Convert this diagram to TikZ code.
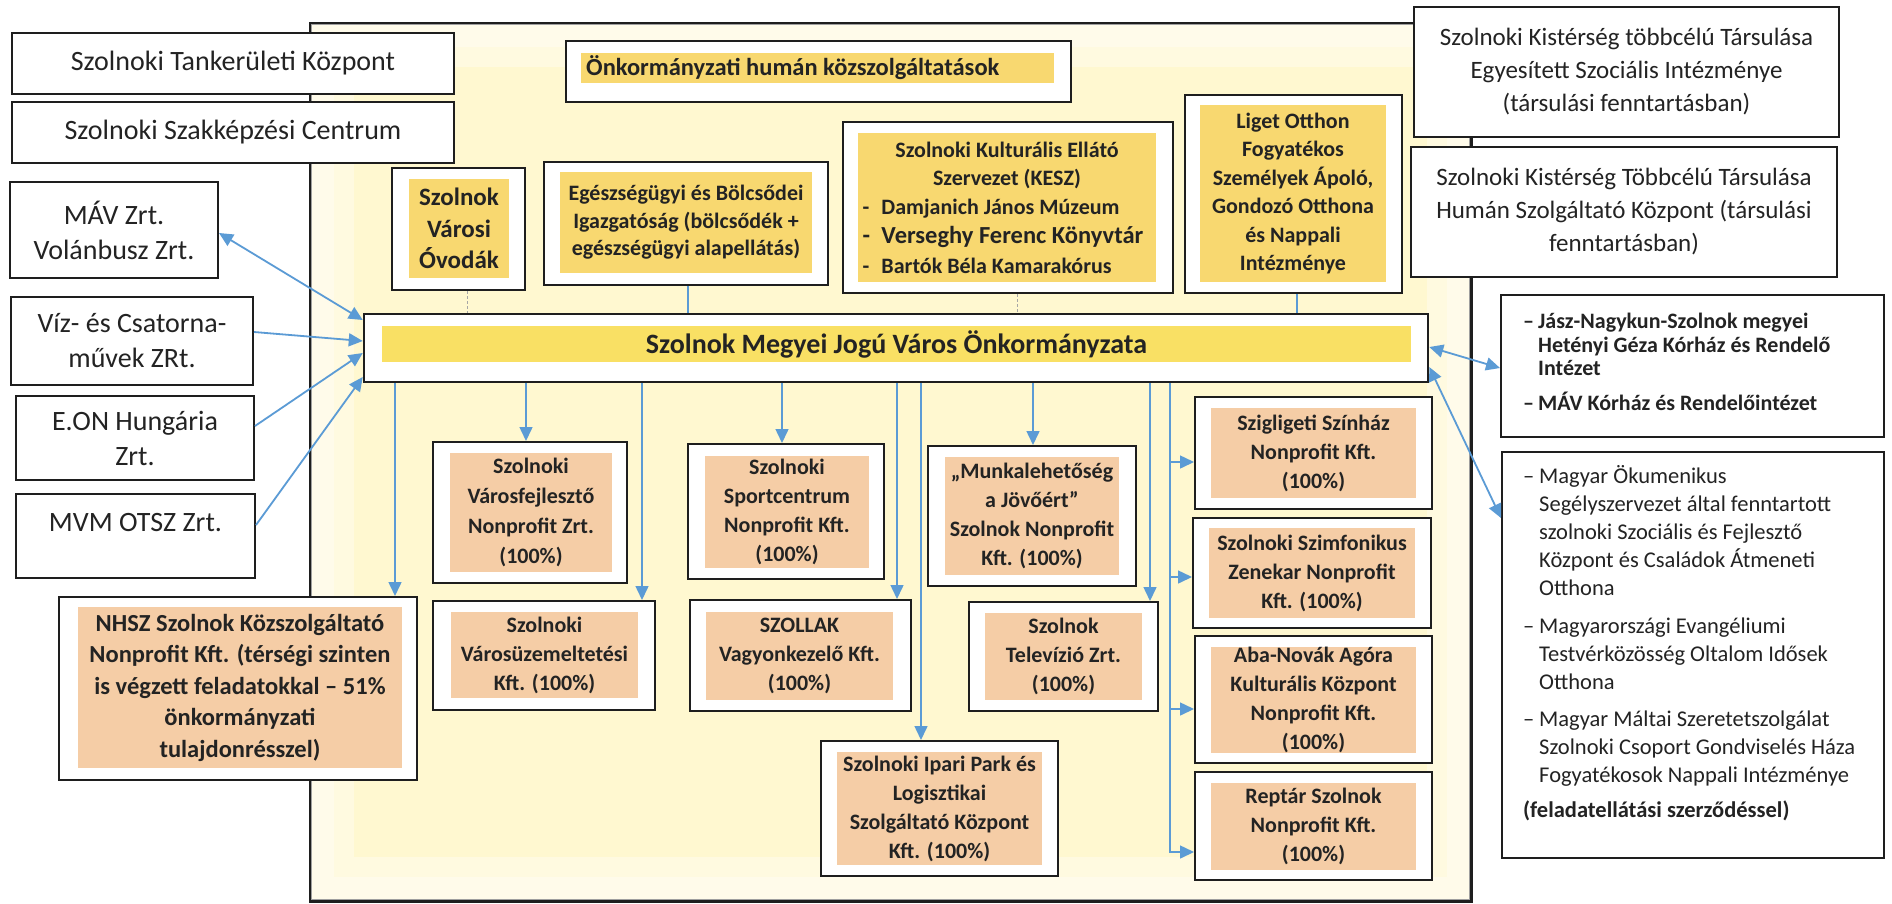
\documentclass[tikz,border=0pt]{standalone}
\usepackage{fontspec}
\setmainfont{Carlito}
\usetikzlibrary{arrows.meta,calc}
\definecolor{frameY}{RGB}{255,248,208}
\definecolor{yfill}{RGB}{248,216,112}
\definecolor{bandY}{RGB}{249,224,100}
\definecolor{ofill}{RGB}{245,205,166}
\definecolor{cblue}{RGB}{91,155,213}
\definecolor{txt}{RGB}{35,35,35}
\definecolor{bline}{RGB}{30,30,30}
\newcommand\myfs[2]{\fontsize{#1}{#2}\selectfont}
\begin{document}
\begin{tikzpicture}[x=1pt,y=-1pt,
  box/.style={draw=bline, line width=2pt, fill=white, inner sep=0pt},
  sz/.style 2 args={minimum width=#1pt, minimum height=#2pt},
  ytxt/.style={fill=yfill, inner sep=0pt, align=center, text=txt},
  otxt/.style={fill=ofill, inner sep=0pt, align=center, text=txt, font=\bfseries\myfs{22}{29}},
  ltxt/.style={align=center, text=txt, font=\myfs{28}{35}},
  arr/.style={draw=cblue, line width=1.5pt, -{Triangle[length=14pt,width=13pt]}},
  arrb/.style={draw=cblue, line width=1.8pt, {Triangle[length=14pt,width=13pt]}-{Triangle[length=14pt,width=13pt]}},
  plainb/.style={draw=cblue, line width=1.2pt},
  gline/.style={draw=gray!70, line width=1pt, dash pattern=on 3pt off 2pt},
  glow/.style={draw=white, opacity=0.35},
]
\useasboundingbox (0,0) rectangle (1892,903);
\fill[white] (0,0) rectangle (1892,903);
% frame
\node[draw=bline, line width=2.5pt, fill=frameY, inner sep=0pt, sz={1159}{876}] (frame) at (890.5,462) {};
\draw[glow, line width=44pt] ([shift={(22,22)}]frame.north west) rectangle ([shift={(-22,-22)}]frame.south east);
\draw[glow, line width=24pt] ([shift={(12,12)}]frame.north west) rectangle ([shift={(-12,-12)}]frame.south east);
\draw[draw=bline, line width=2.5pt] (frame.north west) rectangle (frame.south east);

% left column
\node[box, sz={442}{61}, ltxt] (tank) at (233,63.5) {Szolnoki Tankerületi Központ};
\node[box, sz={442}{61}, ltxt] (szak) at (233,132.5) {Szolnoki Szakképzési Centrum};
\node[box, sz={208}{96}, ltxt] (mav) at (114,230) {MÁV Zrt.\\Volánbusz Zrt.};
\node[box, sz={242}{88}, ltxt] (viz) at (132,341) {Víz- és Csatorna-\\művek ZRt.};
\node[box, sz={238}{84}, ltxt] (eon) at (135,438) {E.ON Hungária\\Zrt.};
\node[box, sz={239}{84}] (mvm) at (135.5,536) {};
\node[ltxt, inner sep=0pt] (mvm-t) at (135.5,523) {MVM OTSZ Zrt.};

\node[box, sz={358}{183}] (nhsz) at (238,688.5) {};
\node[otxt, sz={324}{161}, font=\bfseries\myfs{24.5}{31.5}] (nhsz-t) at (240,687.5) {NHSZ Szolnok Közszolgáltató\\Nonprofit Kft. (térségi szinten\\is végzett feladatokkal – 51\%\\önkormányzati\\tulajdonrésszel)};

% top row inside frame
\node[box, sz={505}{61}] (onk) at (818.5,71.5) {};
\node[fill=yfill, inner sep=0pt, sz={473}{30}] (onk-b) at (817.5,68) {};
\node[anchor=west, inner sep=0pt, text=txt, font=\bfseries\myfs{24.5}{30}] (onk-t) at (586,68) {Önkormányzati humán közszolgáltatások};

\node[box, sz={133}{122}] (ovoda) at (458.5,229) {};
\node[ytxt, sz={100}{99}, font=\bfseries\myfs{25}{31.5}] (ovoda-t) at (459,228.5) {Szolnok\\Városi\\Óvodák};

\node[box, sz={284}{123}] (eu) at (686,223.5) {};
\node[ytxt, sz={252}{101}, font=\bfseries\myfs{22}{27.5}] (eu-t) at (686,222.5) {Egészségügyi és Bölcsődei\\Igazgatóság (bölcsődék +\\egészségügyi alapellátás)};

\node[box, sz={330}{171}] (kesz) at (1008,207.5) {};
\node[ytxt, sz={298}{149}, font=\bfseries\myfs{22}{28.5}] (kesz-t) at (1007,207.5) {Szolnoki Kulturális Ellátó\\Szervezet (KESZ)\\\makebox[289pt][l]{\makebox[19pt][l]{-}Damjanich János Múzeum}\\[1pt]\makebox[289pt][l]{\myfs{24.5}{30}\makebox[19pt][l]{-}Verseghy Ferenc Könyvtár}\\[1pt]\makebox[289pt][l]{\makebox[19pt][l]{-}Bartók Béla Kamarakórus}};

\node[box, sz={217}{198}] (liget) at (1293.5,194) {};
\node[ytxt, sz={186}{177}, font=\bfseries\myfs{22}{28.5}] (liget-t) at (1293,193.5) {Liget Otthon\\Fogyatékos\\Személyek Ápoló,\\Gondozó Otthona\\és Nappali\\Intézménye};

% right column
\node[box, sz={425}{130}, align=center, text=txt, font=\myfs{25}{33}] (kist1) at (1626.5,72) {Szolnoki Kistérség többcélú Társulása\\Egyesített Szociális Intézménye\\(társulási fenntartásban)};
\node[box, sz={426}{130}, align=center, text=txt, font=\myfs{25}{33}] (kist2) at (1624,212) {Szolnoki Kistérség Többcélú Társulása\\Humán Szolgáltató Központ (társulási\\fenntartásban)};

\node[box, sz={383}{142}] (jasz) at (1692.5,366) {};
\node[anchor=north west, inner sep=0pt, align=left, text=txt, font=\bfseries\myfs{22}{23.5}] (jasz-t) at (1523,313) {\makebox[15pt][l]{–}Jász-Nagykun-Szolnok megyei\\\hspace*{15pt}Hetényi Géza Kórház és Rendelő\\\hspace*{15pt}Intézet\\[11pt]\makebox[15pt][l]{–}MÁV Kórház és Rendelőintézet};

\node[box, sz={382}{406}] (magyar) at (1693,655) {};
\node[anchor=north west, inner sep=0pt, align=left, text=txt, font=\myfs{22.5}{28}] (magyar-t) at (1523,465) {\makebox[16pt][l]{–}Magyar Ökumenikus\\\hspace*{16pt}Segélyszervezet által fenntartott\\\hspace*{16pt}szolnoki Szociális és Fejlesztő\\\hspace*{16pt}Központ és Családok Átmeneti\\\hspace*{16pt}Otthona\\[10pt]\makebox[16pt][l]{–}Magyarországi Evangéliumi\\\hspace*{16pt}Testvérközösség Oltalom Idősek\\\hspace*{16pt}Otthona\\[9pt]\makebox[16pt][l]{–}Magyar Máltai Szeretetszolgálat\\\hspace*{16pt}Szolnoki Csoport Gondviselés Háza\\\hspace*{16pt}Fogyatékosok Nappali Intézménye\\[7pt]{\bfseries(feladatellátási szerződéssel)}};

% central
\node[box, line width=2.5pt, sz={1064}{68}] (megyei) at (896,348) {};
\node[fill=bandY, inner sep=0pt, sz={1029}{36}, text=txt, font=\bfseries\myfs{28}{30}] (megyei-t) at (896.5,344) {Szolnok Megyei Jogú Város Önkormányzata};

% subsidiaries
\node[box, sz={194}{141}] (varosfejl) at (530,512.5) {};
\node[otxt, sz={162}{119}, font=\bfseries\myfs{22}{30}] (varosfejl-t) at (531,512.5) {Szolnoki\\Városfejlesztő\\Nonprofit Zrt.\\(100\%)};
\node[box, sz={222}{109}] (varosuz) at (544,655.5) {};
\node[otxt, sz={187}{86}] (varosuz-t) at (544.5,655) {Szolnoki\\Városüzemeltetési\\Kft. (100\%)};
\node[box, sz={196}{135}] (sport) at (786,511.5) {};
\node[otxt, sz={164}{112}] (sport-t) at (787,512) {Szolnoki\\Sportcentrum\\Nonprofit Kft.\\(100\%)};
\node[box, sz={221}{111}] (szollak) at (800.5,655.5) {};
\node[otxt, sz={187}{88}] (szollak-t) at (799.5,656) {SZOLLAK\\Vagyonkezelő Kft.\\(100\%)};
\node[box, sz={237}{135}] (ipari) at (939.5,808.5) {};
\node[otxt, sz={205}{113}] (ipari-t) at (939.5,808.5) {Szolnoki Ipari Park és\\Logisztikai\\Szolgáltató Központ\\Kft. (100\%)};
\node[box, sz={208}{140}] (munka) at (1032,516) {};
\node[otxt, sz={174}{118}] (munka-t) at (1032,516) {„Munkalehetőség\\a Jövőért”\\Szolnok Nonprofit\\Kft. (100\%)};
\node[box, sz={189}{109}] (telev) at (1063.5,656.5) {};
\node[otxt, sz={157}{87}] (telev-t) at (1063.5,656.5) {Szolnok\\Televízió Zrt.\\(100\%)};
\node[box, sz={237}{112}] (szigl) at (1313.5,453) {};
\node[otxt, sz={205}{90}] (szigl-t) at (1313.5,453) {Szigligeti Színház\\Nonprofit Kft.\\(100\%)};
\node[box, sz={238}{110}] (szimf) at (1312,573) {};
\node[otxt, sz={206}{90}] (szimf-t) at (1312,573) {Szolnoki Szimfonikus\\Zenekar Nonprofit\\Kft. (100\%)};
\node[box, sz={237}{127}] (aba) at (1313.5,699.5) {};
\node[otxt, sz={205}{106}] (aba-t) at (1313.5,699.5) {Aba-Novák Agóra\\Kulturális Központ\\Nonprofit Kft.\\(100\%)};
\node[box, sz={237}{108}] (reptar) at (1313.5,826) {};
\node[otxt, sz={205}{87}] (reptar-t) at (1313.5,826) {Reptár Szolnok\\Nonprofit Kft.\\(100\%)};

% top connectors
\draw[gline] (ovoda.south -| 467,0) -- (megyei.north -| 467,0);
\draw[plainb] (eu.south -| 688,0) -- (megyei.north -| 688,0);
\draw[gline] (kesz.south -| 1017,0) -- (megyei.north -| 1017,0);
\draw[plainb] (liget.south -| 1297,0) -- (megyei.north -| 1297,0);

% down arrows
\draw[arr] (megyei.south -| 395,0) -- (nhsz.north -| 395,0);
\draw[arr] (megyei.south -| 526,0) -- (varosfejl.north -| 526,0);
\draw[arr] (megyei.south -| 642,0) -- (varosuz.north -| 642,0);
\draw[arr] (megyei.south -| 782,0) -- (sport.north -| 782,0);
\draw[arr] (megyei.south -| 897,0) -- (szollak.north -| 897,0);
\draw[arr] (megyei.south -| 921,0) -- (ipari.north -| 921,0);
\draw[arr] (megyei.south -| 1033,0) -- (munka.north -| 1033,0);
\draw[arr] (megyei.south -| 1150,0) -- (telev.north -| 1150,0);

% bus on the right
\coordinate (b1) at (1170,462);
\coordinate (b2) at (1170,577);
\coordinate (b3) at (1170,709);
\draw[arr] (megyei.south -| 1170,0) |- (reptar.west |- 0,852);
\draw[arr] (b1) -- (szigl.west |- b1);
\draw[arr] (b2) -- (szimf.west |- b2);
\draw[arr] (b3) -- (aba.west |- b3);

% left arrows
\draw[arrb] (mav.east |- 0,233) -- (megyei.west |- 0,320);
\draw[arr, line width=1.8pt] (viz.east |- 0,332) -- (megyei.west |- 0,341);
\draw[arr, line width=1.8pt] (eon.east |- 0,426) -- (megyei.west |- 0,353);
\draw[arr, line width=1.8pt] (mvm.east |- 0,525) -- (megyei.west |- 0,377);

% right arrows
\draw[arrb] (megyei.east |- 0,347) -- (jasz.west |- 0,368);
\draw[arrb] (megyei.east |- 0,367) -- (magyar.west |- 0,518);
\end{tikzpicture}
\end{document}
